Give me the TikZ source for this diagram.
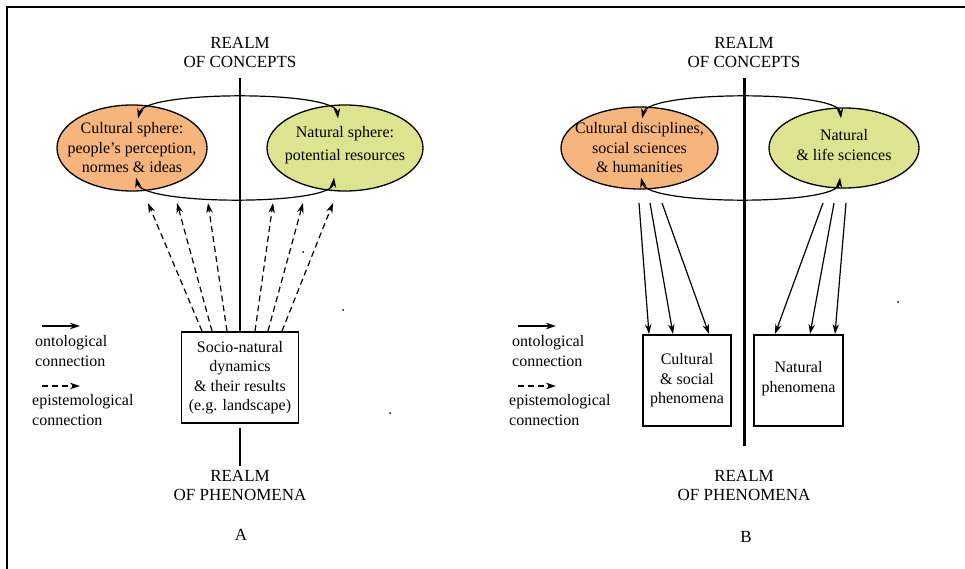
\documentclass[tikz,border=0pt]{standalone}
\usepackage{fontspec}
\setmainfont{Liberation Serif}
\usetikzlibrary{arrows.meta, shapes.geometric, scopes}
\definecolor{cult}{RGB}{246,181,125}
\definecolor{natu}{RGB}{221,227,142}
\tikzset{
  >={Stealth[length=10pt,width=6.5pt]},
  el/.style={ellipse, draw, line width=1.3pt, inner sep=0pt, fill=#1},
  bx/.style={rectangle, draw, line width=1.9pt, inner sep=0pt},
  tx/.style={align=center, inner sep=0pt, font=\fontsize{16}{19.5}\selectfont},
  lg/.style={align=left, anchor=west, inner sep=0pt, font=\fontsize{16}{20}\selectfont},
  rl/.style={align=center, inner sep=0pt, font=\fontsize{17}{19}\selectfont},
  epi/.style={->, line width=1.2pt, dash pattern=on 6pt off 4pt},
  onto/.style={->, line width=1.2pt}
}

\begin{document}
\begin{tikzpicture}[x=1pt, y=-1pt, ring/.style={<->, line width=1.2pt}]
  \useasboundingbox (0,0) rectangle (965,569);
  \draw[line width=2pt] (7,569) -- (7,7) -- (965,7);

  % A
  \node[rl] (cnA) at (240,52) {REALM\\OF CONCEPTS};
  \node[rl] (phA) at (240,485) {REALM\\OF PHENOMENA};
  \node[rl] (lbA) at (241,535) {A};
  \node[el=cult, minimum width=150pt, minimum height=86pt] (cultA) at (132,148) {};
  \node[tx] (cultAt) at (cultA) {Cultural sphere:\\people's perception,\\normes \& ideas};
  \node[el=natu, minimum width=156pt, minimum height=86pt] (natA) at (345,148) {};
  \node[tx] (natAt) at (345,145) {Natural sphere:\\[4pt]potential resources};
  \node[bx, minimum width=117pt, minimum height=91pt] (boxA) at (240,377.5) {};
  \node[tx] (boxAt) at (boxA) {Socio-natural\\dynamics\\\& their results\\(e.g. landscape)};
  \coordinate (ringA) at (241,203);
  \draw[line width=1.2pt, shorten <=11pt] (cnA.south) -- (boxA.north);
  \draw[line width=1.2pt, shorten <=4pt, shorten >=4pt] (boxA.south) -- (phA.north);
  {[ring]
    \draw ([shift={(6,14)}]cultA.north) .. controls +(7,-28) and +(-3,-28) .. ([shift={(-7,14)}]natA.north);
    \draw ([shift={(4,-14)}]cultA.south) .. controls +(7,28) and +(-3,28) .. ([shift={(-11,-14)}]natA.south);
  }
  \foreach \s/\e in {-38/-93, -28/-64, -13/-33, 15/32, 28/62, 42/92}
    \draw[epi] ([xshift=\s]boxA.north) -- ([xshift=\e]ringA);
  % legend A
  \coordinate (oA1) at (42,326); \coordinate (oA2) at (80,326);
  \coordinate (eA1) at (42,386); \coordinate (eA2) at (80,386);
  \draw[onto] (oA1) -- (oA2);
  \draw[epi] (eA1) -- (eA2);
  \node[lg] (ogA) at (35,351) {ontological\\connection};
  \node[lg] (epA) at (32,410) {epistemological\\connection};

  % B
  \node[rl] (cnB) at (744,52) {REALM\\OF CONCEPTS};
  \node[rl] (phB) at (744,485) {REALM\\OF PHENOMENA};
  \node[rl] (lbB) at (746,537) {B};
  \node[el=cult, minimum width=157pt, minimum height=82pt] (cultB) at (639.5,148) {};
  \node[tx] (cultBt) at (cultB) {Cultural disciplines,\\social sciences\\\& humanities};
  \node[el=natu, minimum width=150pt, minimum height=80pt] (natB) at (844,148) {};
  \node[tx] (natBt) at (844,145) {Natural\\\& life sciences};
  \node[bx, minimum width=88pt, minimum height=91pt] (boxBl) at (687,380.5) {};
  \node[tx] (boxBlt) at (boxBl) {Cultural\\\& social\\phenomena};
  \node[bx, minimum width=89pt, minimum height=91pt] (boxBr) at (798.5,380.5) {};
  \node[tx] (boxBrt) at (798.5,378.5) {Natural\\phenomena};
  \coordinate (ringB) at (742,203);
  \draw[line width=3pt, shorten <=11pt, shorten >=24pt] (cnB.south) -- (phB.north);
  {[ring]
    \draw ([shift={(2.5,12)}]cultB.north) .. controls +(7,-28) and +(-3,-28) .. ([shift={(-3,11)}]natB.north);
    \draw ([shift={(1.5,-12)}]cultB.south) .. controls +(7,28) and +(-3,28) .. ([shift={(-4,-11)}]natB.south);
  }
  \foreach \s/\e in {-103/-38, -92/-14, -80/22}
    \draw[onto] ([xshift=\s]ringB) -- ([xshift=\e]boxBl.north);
  \foreach \s/\e in {81/-23.5, 92/11.5, 104/36.5}
    \draw[onto] ([xshift=\s]ringB) -- ([xshift=\e]boxBr.north);
  % legend B
  \coordinate (oB1) at (518,326); \coordinate (oB2) at (556,326);
  \coordinate (eB1) at (518,386); \coordinate (eB2) at (556,386);
  \draw[onto] (oB1) -- (oB2);
  \draw[epi] (eB1) -- (eB2);
  \node[lg] (ogB) at (512,351) {ontological\\connection};
  \node[lg] (epB) at (509,410) {epistemological\\connection};

  % specks
  \foreach \p in {(303,252), (343,310), (390,413), (898,302)}
    \fill \p circle (1pt);
\end{tikzpicture}
\end{document}
